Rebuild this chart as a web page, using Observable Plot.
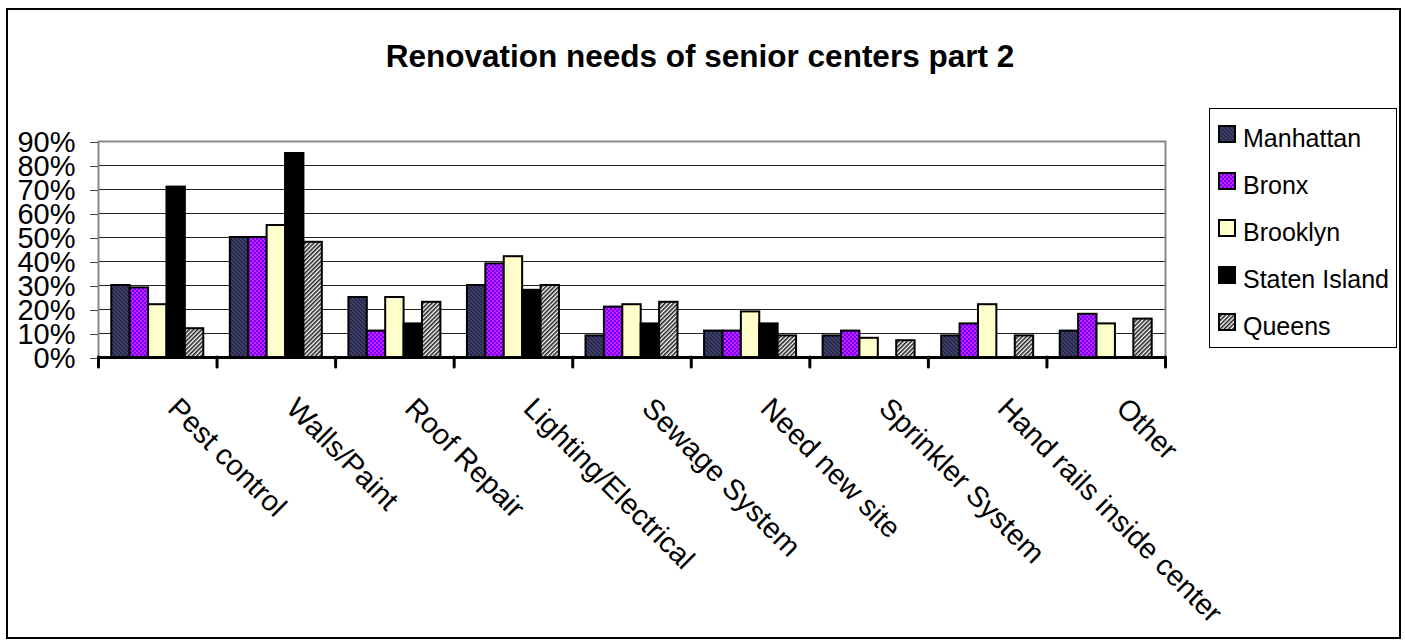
<!DOCTYPE html>
<html>
<head>
<meta charset="utf-8">
<script src="https://cdn.jsdelivr.net/npm/d3@7"></script>
<script src="https://cdn.jsdelivr.net/npm/@observablehq/plot@0.6"></script>
<style>
  html, body { margin: 0; padding: 0; background: #fff; }
  body { width: 1405px; height: 643px; position: relative; overflow: hidden;
         font-family: "Liberation Sans", Arial, sans-serif; }
  #border { position: absolute; left: 6px; top: 8px; width: 1395px; height: 631px;
            border: 2px solid #000; box-sizing: border-box; }
  #title { position: absolute; left: 0; top: 41px; width: 1400px; text-align: center;
           font-size: 31.5px; line-height: 31px; font-weight: bold; color: #000; }
  #chart { position: absolute; left: 0; top: 0; }
  #legend { position: absolute; left: 1209px; top: 108px; width: 188px; height: 240px;
            border: 1px solid #000; box-sizing: border-box; background: #fff; padding-top: 6px; }
  .row { position: relative; height: 47px; line-height: 47px; font-size: 25px; color: #000;
         padding-left: 33px; white-space: nowrap; }
  .row svg { position: absolute; left: 8px; top: 10px; }
</style>
</head>
<body>
<div id="border"></div>
<div id="chart"></div>
<div id="title"></div>
<div id="legend"></div>
<script>
const titleText = "Renovation needs of senior centers part 2";
const categories = ["Pest control", "Walls/Paint", "Roof Repair", "Lighting/Electrical",
  "Sewage System", "Need new site", "Sprinkler System", "Hand rails inside center", "Other"];
const series = ["Manhattan", "Bronx", "Brooklyn", "Staten Island", "Queens"];
const manhattan    = [30, 50, 25, 30,  9, 11,  9,  9, 11];
const bronx        = [29, 50, 11, 39, 21, 11, 11, 14, 18];
const brooklyn     = [22, 55, 25, 42, 22, 19,  8, 22, 14];
const statenIsland = [71, 85, 14, 28, 14, 14,  0,  0,  0];
const queens       = [12, 48, 23, 30, 23,  9,  7,  9, 16];
const yTicks = [0, 0.1, 0.2, 0.3, 0.4, 0.5, 0.6, 0.7, 0.8, 0.9];

const seriesValues = [manhattan, bronx, brooklyn, statenIsland, queens];
const fills = ["url(#p-manhattan)", "url(#p-bronx)", "#ffffcc", "#000000", "url(#p-queens)"];

const rows = categories.flatMap((c, ci) =>
  series.map((s, si) => ({category: c, ci, series: s, si, value: seriesValues[si][ci] / 100}))
).filter(d => d.value > 0);

const groupPad = 0.112;
const barW = (1 - 2 * groupPad) / series.length;

document.getElementById("title").textContent = titleText;

const chart = Plot.plot({
  width: 1405,
  height: 643,
  marginLeft: 98,
  marginRight: 240,
  marginTop: 141,
  marginBottom: 286,
  style: {fontFamily: "'Liberation Sans', Arial, sans-serif", background: "transparent", color: "#000", overflow: "visible"},
  x: {domain: [0, categories.length]},
  y: {domain: [0, 0.9]},
  color: {type: "ordinal", domain: series, range: fills},
  marks: [
    Plot.ruleY(yTicks, {stroke: "#222", strokeWidth: 1}),
    Plot.frame({stroke: "#888", strokeWidth: 2}),
    Plot.rectY(rows, {
      x1: d => d.ci + groupPad + d.si * barW,
      x2: d => d.ci + groupPad + (d.si + 1) * barW,
      y: "value",
      fill: "series",
      stroke: "#000",
      strokeWidth: 2
    }),
    Plot.ruleY([0], {stroke: "#000", strokeWidth: 3}),
    Plot.axisY(yTicks, {tickFormat: d3.format(".0%"), fontSize: 29, tickSize: 8, tickPadding: 15, label: null, stroke: "#444", dy: 1}),
    Plot.axisX(d3.range(categories.length + 1), {tickFormat: () => "", tickSize: 10, strokeWidth: 3, stroke: "#000", strokeLinecap: "round", label: null}),
    Plot.axisX(categories.map((c, i) => i + 0.5), {
      tickFormat: v => categories[Math.floor(v)],
      tickRotate: 45, tickSize: 0, tickPadding: 46, dx: 15, fontSize: 29, label: null
    })
  ]
});

// patterns used by the bar fills
const defs = d3.select(chart).insert("defs", ":first-child");
const pm = defs.append("pattern").attr("id", "p-manhattan").attr("patternUnits", "userSpaceOnUse").attr("width", 4).attr("height", 4);
pm.append("rect").attr("width", 4).attr("height", 4).attr("fill", "#3c3c68");
pm.append("rect").attr("x", 0).attr("y", 0).attr("width", 1).attr("height", 1).attr("fill", "#1a1a33");
pm.append("rect").attr("x", 1).attr("y", 1).attr("width", 1).attr("height", 1).attr("fill", "#1a1a33");
pm.append("rect").attr("x", 2).attr("y", 2).attr("width", 1).attr("height", 1).attr("fill", "#1a1a33");
pm.append("rect").attr("x", 3).attr("y", 3).attr("width", 1).attr("height", 1).attr("fill", "#1a1a33");
const pb = defs.append("pattern").attr("id", "p-bronx").attr("patternUnits", "userSpaceOnUse").attr("width", 4).attr("height", 4);
pb.append("rect").attr("width", 4).attr("height", 4).attr("fill", "#6a00ff");
pb.append("rect").attr("x", 0).attr("y", 0).attr("width", 2).attr("height", 2).attr("fill", "#d020ff");
pb.append("rect").attr("x", 2).attr("y", 2).attr("width", 2).attr("height", 2).attr("fill", "#d020ff");
const pq = defs.append("pattern").attr("id", "p-queens").attr("patternUnits", "userSpaceOnUse").attr("width", 3).attr("height", 3).attr("patternTransform", "rotate(45)");
pq.append("rect").attr("width", 3).attr("height", 3).attr("fill", "#ffffff");
pq.append("rect").attr("width", 1.6).attr("height", 3).attr("fill", "#222222");

document.getElementById("chart").appendChild(chart);

// legend
const legend = d3.select("#legend");
series.forEach((s, i) => {
  const row = legend.append("div").attr("class", "row");
  const sw = row.append("svg").attr("width", 19).attr("height", 19);
  sw.append("rect").attr("x", 1).attr("y", 1).attr("width", 16).attr("height", 16)
    .attr("fill", fills[i]).attr("stroke", "#000").attr("stroke-width", 2);
  row.append("span").text(s);
});
</script>
</body>
</html>
